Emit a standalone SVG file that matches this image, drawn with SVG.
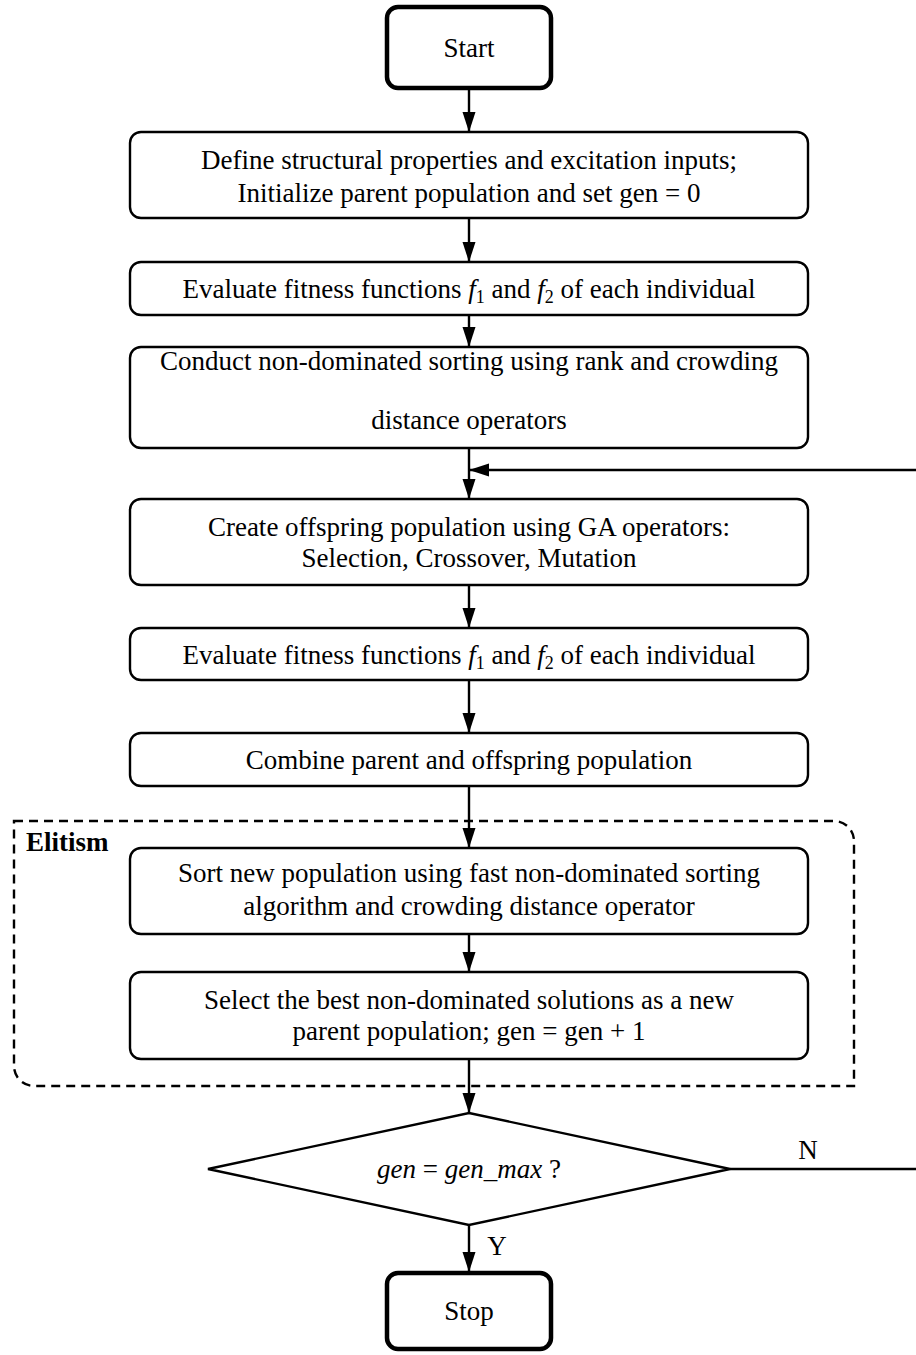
<svg xmlns="http://www.w3.org/2000/svg" width="916" height="1355" viewBox="0 0 916 1355">
<defs>
<marker id="ah" markerWidth="20" markerHeight="14" refX="19" refY="7" orient="auto" markerUnits="userSpaceOnUse">
<path d="M0,0.5 L20,7 L0,13.5 Z" fill="#000"/>
</marker>
<style>
.box{fill:#fff;stroke:#000;stroke-width:2.4}
.term{fill:#fff;stroke:#000;stroke-width:4.5}
.t{font-family:"Liberation Serif","Times New Roman",serif;font-size:27px;fill:#000;text-anchor:middle}
.line{fill:none;stroke:#000;stroke-width:2.4}
.dash{fill:none;stroke:#000;stroke-width:2.4;stroke-dasharray:9,6}
</style>
</defs>
<rect width="916" height="1355" fill="#fff"/>
<g id="elitism">
<path class="dash" d="M14,821 H834 A20,20 0 0 1 854,841 V1086 H34 A20,20 0 0 1 14,1066 Z"/>
<text x="26" y="851" font-family="Liberation Serif,serif" font-size="27" font-weight="bold">Elitism</text>
</g>
<g id="connectors">
<line class="line" x1="469" y1="90" x2="469" y2="131" marker-end="url(#ah)"/>
<line class="line" x1="469" y1="218" x2="469" y2="261" marker-end="url(#ah)"/>
<line class="line" x1="469" y1="315" x2="469" y2="346" marker-end="url(#ah)"/>
<line class="line" x1="469" y1="448" x2="469" y2="498" marker-end="url(#ah)"/>
<line class="line" x1="920" y1="470" x2="470" y2="470" marker-end="url(#ah)"/>
<line class="line" x1="469" y1="585" x2="469" y2="627" marker-end="url(#ah)"/>
<line class="line" x1="469" y1="680" x2="469" y2="732" marker-end="url(#ah)"/>
<line class="line" x1="469" y1="786" x2="469" y2="847" marker-end="url(#ah)"/>
<line class="line" x1="469" y1="934" x2="469" y2="971" marker-end="url(#ah)"/>
<line class="line" x1="469" y1="1059" x2="469" y2="1112" marker-end="url(#ah)"/>
<line class="line" x1="469" y1="1225" x2="469" y2="1271" marker-end="url(#ah)"/>
<line class="line" x1="730" y1="1169" x2="920" y2="1169"/>
<text class="t" x="808" y="1159">N</text>
<text class="t" x="497" y="1255">Y</text>
</g>
<g id="start">
<rect class="term" x="387" y="7" width="164" height="81" rx="11"/>
<text class="t" x="469" y="57">Start</text>
</g>
<g id="define">
<rect class="box" x="130" y="132" width="678" height="86" rx="11"/>
<text class="t" x="469" y="169">Define structural properties and excitation inputs;</text>
<text class="t" x="469" y="202">Initialize parent population and set gen = 0</text>
</g>
<g id="eval1">
<rect class="box" x="130" y="262" width="678" height="53" rx="11"/>
<text class="t" x="469" y="298">Evaluate fitness functions <tspan font-style="italic">f</tspan><tspan font-size="18" dy="5">1</tspan><tspan dy="-5"> and </tspan><tspan font-style="italic">f</tspan><tspan font-size="18" dy="5">2</tspan><tspan dy="-5"> of each individual</tspan></text>
</g>
<g id="sort1">
<rect class="box" x="130" y="347" width="678" height="101" rx="11"/>
<text class="t" x="469" y="370">Conduct non-dominated sorting using rank and crowding</text>
<text class="t" x="469" y="429">distance operators</text>
</g>
<g id="offspring">
<rect class="box" x="130" y="499" width="678" height="86" rx="11"/>
<text class="t" x="469" y="536">Create offspring population using GA operators:</text>
<text class="t" x="469" y="567">Selection, Crossover, Mutation</text>
</g>
<g id="eval2">
<rect class="box" x="130" y="628" width="678" height="52" rx="11"/>
<text class="t" x="469" y="664">Evaluate fitness functions <tspan font-style="italic">f</tspan><tspan font-size="18" dy="5">1</tspan><tspan dy="-5"> and </tspan><tspan font-style="italic">f</tspan><tspan font-size="18" dy="5">2</tspan><tspan dy="-5"> of each individual</tspan></text>
</g>
<g id="combine">
<rect class="box" x="130" y="733" width="678" height="53" rx="11"/>
<text class="t" x="469" y="769">Combine parent and offspring population</text>
</g>
<g id="sort2">
<rect class="box" x="130" y="848" width="678" height="86" rx="11"/>
<text class="t" x="469" y="882">Sort new population using fast non-dominated sorting</text>
<text class="t" x="469" y="915">algorithm and crowding distance operator</text>
</g>
<g id="select">
<rect class="box" x="130" y="972" width="678" height="87" rx="11"/>
<text class="t" x="469" y="1009">Select the best non-dominated solutions as a new</text>
<text class="t" x="469" y="1040">parent population; gen = gen + 1</text>
</g>
<g id="decision">
<polygon class="box" points="469,1113 730,1169 469,1225 208,1169"/>
<text class="t" x="469" y="1178"><tspan font-style="italic">gen</tspan> = <tspan font-style="italic">gen_max</tspan> ?</text>
</g>
<g id="stop">
<rect class="term" x="387" y="1273" width="164" height="76" rx="11"/>
<text class="t" x="469" y="1320">Stop</text>
</g>
</svg>
